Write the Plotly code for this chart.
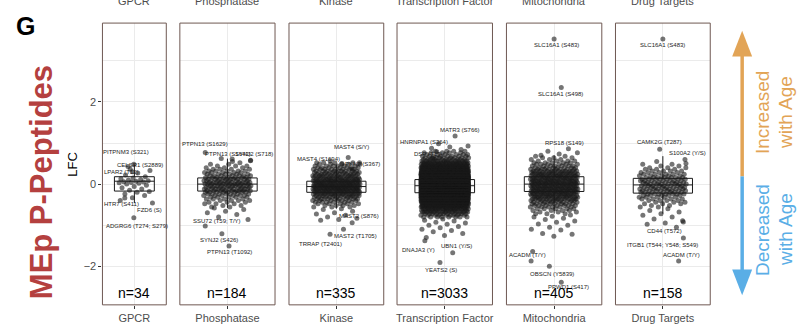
import plotly.graph_objects as go

W, H = 807, 324

categories = ["GPCR", "Phosphatase", "Kinase", "Transcription Factor", "Mitochondria", "Drug Targets"]

# Box statistics of the log fold change (LFC) per category
box_q1 = [-0.17, -0.17, -0.20, -0.21, -0.18, -0.22]
box_median = [0.07, 0.00, -0.06, -0.04, 0.00, -0.02]
box_q3 = [0.18, 0.15, 0.07, 0.11, 0.18, 0.14]
box_lower = [-0.46, -0.58, -0.60, -0.68, -0.72, -0.72]
box_upper = [0.48, 0.62, 0.47, 0.58, 0.70, 0.68]

BIN_STEP = 0.04  # resolution of the binned dense cores

# ---- GPCR -----------------------------------------------------------------
gpcr_lfc = [0.36, 0.33, 0.27, 0.22, 0.18, 0.15, 0.13, 0.11, 0.10, 0.08, 0.07, 0.06,
            0.05, 0.04, 0.03, 0.02, 0.00, -0.03, -0.06, -0.09, -0.12, -0.15, -0.18,
            -0.20, -0.24, -0.28, -0.33, -0.40]
gpcr_core_lo = 0.0
gpcr_core_counts = []
gpcr_hits = ["PITPNM3 (S321)", "CELSR1 (S2889)", "LPAR2 (T12)", "HTR7 (S411)", "FZD6 (S)",
             "ADGRG6 (T274; S279)"]
gpcr_hit_lfc = [0.48, 0.43, 0.30, -0.34, -0.46, -0.82]
gpcr_hit_jitter = [-0.01, -0.12, -0.04, -0.18, 0.34, -0.01]

# ---- Phosphatase ----------------------------------------------------------
phos_lfc = [0.62, 0.58, 0.55, -0.58, -0.62, -0.66, -0.70, -0.74, -0.80, -0.86]
phos_core_lo = -0.56
phos_core_counts = [2, 2, 3, 3, 4, 4, 5, 6, 7, 8, 9, 10, 10, 11, 11, 10, 10, 9, 8, 7,
                    6, 5, 5, 4, 3, 3, 2, 1]
phos_hits = ["PTPN13 (S1629)", "PTPN13 (S1643)", "SYNJ2 (S718)", "SSU72 (T59; T/Y)",
             "SYNJ2 (S426)", "PTPN13 (T1092)"]
phos_hit_lfc = [0.77, 0.61, 0.57, -1.02, -1.21, -1.51]
phos_hit_jitter = [-0.28, 0.06, 0.29, -0.28, -0.07, 0.02]

# ---- Kinase ---------------------------------------------------------------
kin_lfc = [0.56, 0.52, -0.60, -0.62, -0.66, -0.70, -0.73, -0.76, -0.80, -0.83, -0.86, -0.88]
kin_core_lo = -0.56
kin_core_counts = [3, 4, 5, 6, 7, 9, 10, 12, 14, 16, 17, 19, 21, 21, 19, 17, 16, 15, 14,
                   12, 11, 10, 9, 8, 7, 6, 5, 4]
kin_hits = ["MAST4 (S/Y)", "MAST4 (S1694)", "PKN2 (S367)", "MAST2 (S876)", "MAST2 (T1705)",
            "TRRAP (T2401)"]
kin_hit_lfc = [0.65, 0.50, 0.36, -0.94, -1.10, -1.22]
kin_hit_jitter = [0.15, 0.07, 0.20, 0.20, 0.09, -0.08]

# ---- Transcription Factor -------------------------------------------------
tf_lfc = [0.98, 0.93, 0.90, 0.87, 0.84, -0.85, -0.88, -0.90, -0.93, -0.95, -0.98, -1.00,
          -1.03, -1.06, -1.10, -1.13, -1.16, -1.20, -1.25, -1.30]
tf_core_lo = -0.80
tf_core_counts = [8, 9, 11, 14, 18, 21, 26, 33, 40, 50, 63, 78, 95, 115, 135, 153, 168, 180,
                  186, 186, 186, 180, 168, 153, 135, 118, 100, 83, 66, 53, 41, 33, 25, 19,
                  15, 11, 9, 8, 6, 5, 4]
tf_hits = ["MATR3 (S766)", "HNRNPA1 (S364)", "DSP (T1?)", "DNAJA3 (Y)", "UBN1 (Y/S)",
           "YEATS2 (S)"]
tf_hit_lfc = [1.17, 0.79, 0.62, -1.38, -1.67, -1.91]
tf_hit_jitter = [0.13, -0.10, -0.15, -0.25, 0.10, -0.06]

# ---- Mitochondria ---------------------------------------------------------
mito_lfc = [0.80, 0.76, 0.73, 0.70, -0.75, -0.78, -0.80, -0.83, -0.86, -0.90, -0.93, -0.97,
            -1.00, -1.05, -1.10, -1.12, -1.20, -1.22, -1.27]
mito_core_lo = -0.72
mito_core_counts = [3, 3, 4, 5, 6, 7, 8, 9, 10, 13, 14, 15, 16, 16, 17, 17, 17, 17, 17, 17,
                    16, 16, 15, 15, 14, 13, 12, 9, 8, 7, 6, 5, 4, 3, 3, 2]
mito_hits = ["SLC16A1 (S483)", "SLC16A1 (S498)", "RPS18 (S149)", "ACADM (T/Y)", "",
             "OBSCN (Y5839)", "PPWD1 (S417)"]
mito_hit_lfc = [3.53, 2.35, 0.86, -1.64, -1.87, -2.00, -2.39]
mito_hit_jitter = [0.0, 0.09, 0.18, -0.27, -0.29, -0.06, 0.09]

# ---- Drug Targets ---------------------------------------------------------
drug_lfc = [0.55, 0.50, -0.60, -0.64, -0.68, -0.72, -0.76, -0.80, -0.85, -0.92, -0.95,
            -0.98, -1.05]
drug_core_lo = -0.56
drug_core_counts = [2, 2, 3, 3, 4, 4, 5, 5, 7, 7, 8, 8, 8, 8, 8, 8, 7, 7, 7, 5, 5, 4, 4, 3,
                    3, 2, 2]
drug_hits = ["SLC16A1 (S483)", "CAMK2G (T287)", "S100A2 (Y/S)", "CD44 (T572)",
             "ITGB1 (T544; Y548; S549)", "ACADM (T/Y)"]
drug_hit_lfc = [3.53, 0.85, 0.60, -0.89, -1.31, -1.87]
drug_hit_jitter = [0.0, -0.04, 0.28, 0.25, 0.26, 0.20]

groups = [
    (gpcr_lfc, gpcr_core_lo, gpcr_core_counts, gpcr_hits, gpcr_hit_lfc, gpcr_hit_jitter),
    (phos_lfc, phos_core_lo, phos_core_counts, phos_hits, phos_hit_lfc, phos_hit_jitter),
    (kin_lfc, kin_core_lo, kin_core_counts, kin_hits, kin_hit_lfc, kin_hit_jitter),
    (tf_lfc, tf_core_lo, tf_core_counts, tf_hits, tf_hit_lfc, tf_hit_jitter),
    (mito_lfc, mito_core_lo, mito_core_counts, mito_hits, mito_hit_lfc, mito_hit_jitter),
    (drug_lfc, drug_core_lo, drug_core_counts, drug_hits, drug_hit_lfc, drug_hit_jitter),
]

# ---- layout (pixel geometry) ---------------------------------------------
panel_left = [101.7, 179.3, 288.7, 397.0, 506.7, 616.0]
panel_right = [165.7, 274.7, 383.7, 492.7, 602.3, 711.0]
panel_top, panel_bottom = 23.3, 307.7
Y_RANGE = [-2.94, 3.92]
JITTER = 0.30

# text offsets (px, y up) of the hit labels relative to their points
label_shift = [
    [(-8, 12), (12, 1), (-11, 0), (-3, -6), (-3, -7), (3, -8)],
    [(0, 8), (-4, 5), (4, 7), (12, 5), (-3, -6), (0, -6)],
    [(3, 10), (-23, 5), (10, 5), (7, 7), (12, -7), (-10, -10)],
    [(5, 6), (-13, 10), (-5, 5), (-6, -9), (4, 7), (1, -7)],
    [(2, -6), (-1, -6), (-4, 6), (-5, -4), (0, 0), (3, -8), (7, -5)],
    [(0, -6), (0, 7), (3, 6), (-18, -10), (-21, -7), (3, 6)],
]

FONT = "Liberation Sans, Arial, Helvetica, sans-serif"


def px_x(x):
    return x / W


def px_y(y):
    return 1 - y / H


def paper_text(x, y, text, size, color, angle=0):
    return dict(x=px_x(x), y=px_y(y), xref="paper", yref="paper", text=text,
                xanchor="center", yanchor="middle", textangle=angle, showarrow=False,
                font=dict(size=size, color=color, family=FONT))


fig = go.Figure()
annotations = []
shapes = []
layout_axes = {}

for i, (extra, core_lo, core_counts, hits, hit_lfc, hit_jit) in enumerate(groups):
    sfx = "" if i == 0 else str(i + 1)
    xa, ya = "x" + sfx, "y" + sfx

    # all LFC values of this category (binned core expanded + individual points)
    vals = list(extra)
    for b, c in enumerate(core_counts):
        vals += [round(core_lo + b * BIN_STEP, 3)] * c
    # horizontal jitter: low-discrepancy spread across the jitter width
    xs = [1 + ((k * 0.6180339887 + 0.37) % 1.0 - 0.5) * 2 * JITTER for k in range(len(vals))]
    xs += [1 + d for d in hit_jit]
    ys = vals + list(hit_lfc)
    n_points = len(ys)

    fig.add_trace(go.Box(
        x=[1], q1=[box_q1[i]], median=[box_median[i]], q3=[box_q3[i]],
        lowerfence=[box_lower[i]], upperfence=[box_upper[i]],
        width=0.75, whiskerwidth=0, boxpoints=False,
        line=dict(color="#1a1a1a", width=1), fillcolor="rgba(0,0,0,0)",
        xaxis=xa, yaxis=ya, showlegend=False, hoverinfo="skip"))

    fig.add_trace(go.Scatter(
        x=xs, y=ys, mode="markers",
        marker=dict(size=5, color="rgba(25,25,25,0.6)", line=dict(width=0)),
        xaxis=xa, yaxis=ya, showlegend=False, hoverinfo="skip"))

    layout_axes["xaxis" + sfx] = dict(
        domain=[px_x(panel_left[i]), px_x(panel_right[i])], range=[0.4, 1.6],
        tickvals=[1], ticktext=[categories[i]], ticks="outside", ticklen=3,
        tickcolor="#333333", tickwidth=1,
        tickfont=dict(size=11, color="#4d4d4d", family=FONT),
        showgrid=True, gridcolor="#ebebeb", gridwidth=1, zeroline=False,
        showline=False, anchor=ya, fixedrange=True)
    layout_axes["yaxis" + sfx] = dict(
        domain=[px_y(panel_bottom), px_y(panel_top)], range=Y_RANGE,
        tick0=0, dtick=2, showticklabels=(i == 0), ticks="outside" if i == 0 else "",
        ticklen=3, tickcolor="#333333", tickwidth=1,
        tickfont=dict(size=11, color="#4d4d4d", family=FONT),
        showgrid=True, gridcolor="#ebebeb", gridwidth=1,
        minor=dict(dtick=1, tick0=0, showgrid=True, gridcolor="#ebebeb", ticks=""),
        zeroline=False, showline=False, anchor=xa, fixedrange=True)

    # panel frame
    shapes.append(dict(type="rect", xref=xa + " domain", yref=ya + " domain",
                       x0=0, x1=1, y0=0, y1=1, layer="above",
                       line=dict(color="#6e5852", width=1)))

    # hit labels
    for name, yv, d, (sx, sy) in zip(hits, hit_lfc, hit_jit, label_shift[i]):
        if not name:
            continue
        annotations.append(dict(
            x=1 + d, y=yv, xref=xa, yref=ya, text=name, showarrow=False,
            xanchor="center", yanchor="middle",
            xshift=sx, yshift=sy, font=dict(size=6, color="#222222", family=FONT)))

    # sample size
    annotations.append(dict(
        x=1, xref=xa, y=px_y(295.7), yref="paper", text=f"n={n_points}",
        xanchor="center", yanchor="middle",
        showarrow=False, font=dict(size=14, color="#000000", family=FONT)))

    # strip title (top)
    annotations.append(dict(
        x=1, xref=xa, y=px_y(1.5), yref="paper", xanchor="center", yanchor="middle",
        text=categories[i], showarrow=False,
        font=dict(size=11, color="#4d4d4d", family=FONT)))

# y-axis title, panel letter, row title
annotations.append(paper_text(72, 165.5, "LFC", 13, "#000000", -90))
annotations.append(paper_text(25, 26, "<b>G</b>", 25, "#000000"))
annotations.append(paper_text(40, 184, "<b>MEp P-Peptides</b>", 31, "#B4403F", -90))

# direction arrow
ORANGE, BLUE = "#E2A456", "#5AAEE6"
AX = 743
shapes.append(dict(type="line", xref="paper", yref="paper", x0=px_x(AX), x1=px_x(AX),
                   y0=px_y(54), y1=px_y(178), line=dict(color=ORANGE, width=3.5)))
shapes.append(dict(type="line", xref="paper", yref="paper", x0=px_x(AX), x1=px_x(AX),
                   y0=px_y(178), y1=px_y(275), line=dict(color=BLUE, width=3.5)))
shapes.append(dict(type="path", xref="paper", yref="paper",
                   path=f"M {px_x(AX)},{px_y(31)} L {px_x(AX - 10)},{px_y(57)} "
                        f"L {px_x(AX + 10)},{px_y(57)} Z",
                   fillcolor=ORANGE, line=dict(width=0)))
shapes.append(dict(type="path", xref="paper", yref="paper",
                   path=f"M {px_x(AX)},{px_y(298)} L {px_x(AX - 10)},{px_y(272)} "
                        f"L {px_x(AX + 10)},{px_y(272)} Z",
                   fillcolor=BLUE, line=dict(width=0)))
annotations.append(paper_text(764, 114, "Increased", 19, ORANGE, -90))
annotations.append(paper_text(787, 114, "with Age", 19, ORANGE, -90))
annotations.append(paper_text(764, 232, "Decreased", 19, BLUE, -90))
annotations.append(paper_text(787, 232, "with Age", 19, BLUE, -90))

fig.update_layout(
    width=W, height=H, margin=dict(l=0, r=0, t=0, b=0),
    paper_bgcolor="white", plot_bgcolor="white",
    showlegend=False, annotations=annotations, shapes=shapes,
    font=dict(family=FONT), **layout_axes)

fig.write_html("out.html")
